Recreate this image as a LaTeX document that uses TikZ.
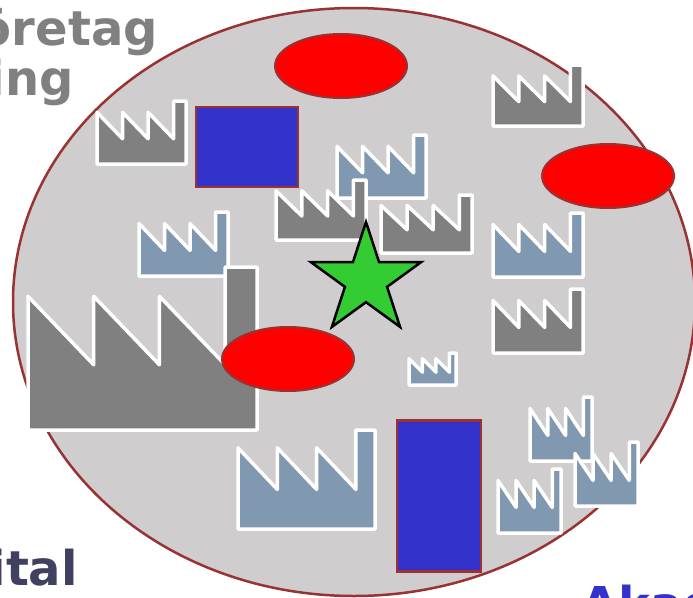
\documentclass[tikz,border=0pt]{standalone}
\usepackage{fontspec}
\setmainfont{DejaVu Sans}
\usetikzlibrary{shapes.geometric}
\definecolor{bgdisk}{HTML}{CFCDCE}
\definecolor{rim}{HTML}{993333}
\definecolor{fgray}{HTML}{808080}
\definecolor{fblue}{HTML}{8098B0}
\definecolor{unired}{HTML}{FF0000}
\definecolor{instblue}{HTML}{3333CC}
\definecolor{hubgreen}{HTML}{33CC33}
\definecolor{slate}{HTML}{404060}
\newcommand\factory[5]{%
  \pgfmathsetmacro\toothw{0.287*#3}
  \fill[#5, draw=white, line width=3.5pt, line join=round]
    (#1,{#2+#4}) -- (#1,{#2+0.18*#4})
    -- ({#1+\toothw},{#2+0.6*#4}) -- ({#1+\toothw},{#2+0.18*#4})
    -- ({#1+2*\toothw},{#2+0.6*#4}) -- ({#1+2*\toothw},{#2+0.18*#4})
    -- ({#1+3*\toothw},{#2+0.6*#4}) -- ({#1+3*\toothw},#2)
    -- ({#1+#3},#2) -- ({#1+#3},{#2+#4}) -- cycle;}
\tikzset{
  blob/.style={ellipse, fill=unired, draw=rim, line width=2pt, inner sep=0pt,
    minimum width=132pt, minimum height=64pt},
  inst/.style={rectangle, fill=instblue, draw=rim, line width=2.5pt, inner sep=0pt},
  word/.style={inner sep=0pt, font=\bfseries\fontsize{48}{50}\selectfont}
}
\begin{document}
\begin{tikzpicture}[x=1pt, y=-1pt]
  \useasboundingbox (0,0) rectangle (693,597);
  \node[word, anchor=base east, text=fgray] (lblA) at (158,45) {öretag};
  \node[word, anchor=base east, text=fgray] (lblB) at (74,95) {ing};
  \node[word, anchor=base east, text=slate] (lblC) at (78,585) {ital};
  \node[word, anchor=base west, text=instblue] (lblD) at (581,621) {Akad};
  \node[ellipse, fill=bgdisk, draw=rim, line width=2.5pt, inner sep=0pt,
    minimum width=682pt, minimum height=588pt] (field) at (354,302) {};
  \foreach \x/\y/\w/\h/\c in {
      97/101/89/63/fgray, 493/65/90/61/fgray, 337/135/89/63/fblue,
      276/180/90/60/fgray, 381/195/91/58/fgray, 139/212/89/64/fblue,
      28/267/229/163/fgray, 493/213/90/64/fblue, 493/289/90/64/fgray,
      409/353/47/32/fblue, 238/430/137/99/fblue, 530/397/62/64/fblue,
      575/442/63/64/fblue, 498/469/63/64/fblue}
    \factory{\x}{\y}{\w}{\h}{\c};
  \node[blob] (uniA) at (341,66) {};
  \node[blob] (uniB) at (608,176) {};
  \node[blob] (uniC) at (288,359) {};
  \node[inst, minimum width=102pt, minimum height=80pt] (instA) at (247,147) {};
  \node[inst, minimum width=84pt, minimum height=151pt] (instB) at (439,496) {};
  \node[star, star points=5, star point ratio=2.618, minimum size=116pt,
    inner sep=0pt, fill=hubgreen, draw=black, line width=2.5pt] (hub) at (366,280) {};
\end{tikzpicture}
\end{document}
